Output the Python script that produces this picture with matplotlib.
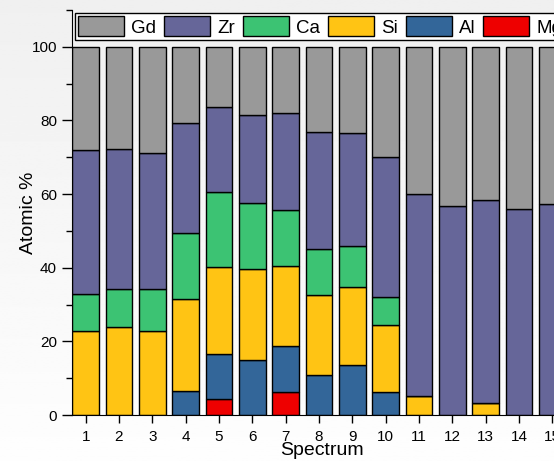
import numpy as np
import matplotlib
matplotlib.use("Agg")
import matplotlib.pyplot as plt
from matplotlib.ticker import MultipleLocator

plt.rcParams.update({"font.family": ["Liberation Sans", "DejaVu Sans"]})

spectra = np.arange(1, 16)
tick_labels = [str(s) for s in spectra]

# atomic % per element, stacked bottom -> top: Mg, Al, Si, Ca, Zr, Gd
mg = [0, 0, 0, 0, 4.4, 0, 6.3, 0, 0, 0, 0, 0, 0, 0, 0]
al = [0, 0, 0, 6.6, 12.2, 14.9, 12.4, 10.8, 13.6, 6.2, 0, 0, 0, 0, 0]
si = [22.9, 23.9, 22.9, 24.8, 23.7, 24.7, 21.9, 21.8, 21.1, 18.2, 5.2, 0, 3.3, 0, 0]
ca = [10.0, 10.3, 11.3, 17.9, 20.3, 18.1, 15.1, 12.4, 11.3, 7.6, 0, 0, 0, 0, 0]
zr = [39.1, 38.1, 36.9, 29.9, 23.1, 23.9, 26.4, 31.9, 30.5, 38.2, 54.9, 56.8, 55.1, 55.9, 57.2]
gd = [28.0, 27.7, 28.9, 20.8, 16.3, 18.4, 17.9, 23.1, 23.5, 29.8, 39.9, 43.2, 41.6, 44.1, 42.8]

elements = ["Mg", "Al", "Si", "Ca", "Zr", "Gd"]
series = [mg, al, si, ca, zr, gd]
colors = ["#ee0000", "#336699", "#ffc414", "#3cc373", "#666699", "#999999"]

W, H = 554, 461
fig = plt.figure(figsize=(W / 100, H / 100), dpi=100)

# soft grey-to-white backdrop
bg = fig.add_axes([0, 0, 1, 1], zorder=-10)
grad = np.linspace(0.94, 0.995, 256).reshape(-1, 1)
bg.imshow(grad, cmap="gray", vmin=0, vmax=1, aspect="auto", extent=[0, 1, 0, 1])
bg.axis("off")

ax = fig.add_axes([72.3 / W, 46 / H, 500 / W, 405 / H])
ax.set_facecolor("none")

bottom = np.zeros(len(spectra))
handles = {}
for name, vals, col in zip(elements, series, colors):
    vals = np.array(vals)
    bars = ax.bar(spectra, vals, width=0.8, bottom=bottom, color=col,
                  edgecolor="black", linewidth=1.0)
    handles[name] = bars
    bottom += vals

ax.set_xlim(0.6, 15.6)
ax.set_ylim(0, 110)
ax.set_xticks(spectra)
ax.set_xticklabels(tick_labels)
ax.yaxis.set_major_locator(MultipleLocator(20))
ax.yaxis.set_minor_locator(MultipleLocator(10))
ax.tick_params(axis="both", which="major", direction="out", length=6.5,
               width=1, labelsize=11)
ax.tick_params(axis="x", which="major", length=6, pad=4.5)
ax.tick_params(axis="y", which="major", length=7, pad=4)
ax.tick_params(axis="y", which="minor", direction="out", length=4.5, width=1)
ax.spines["top"].set_visible(False)
ax.spines["right"].set_visible(False)
ax.set_xlabel("Spectrum", fontsize=14, labelpad=-1)
ax.set_ylabel("Atomic %", fontsize=14, labelpad=-4)

order = ["Gd", "Zr", "Ca", "Si", "Al", "Mg"]
leg = ax.legend([handles[n] for n in order], order, ncol=6,
                loc="upper left", bbox_to_anchor=(75 / W, 1 - 13 / H),
                bbox_transform=fig.transFigure, borderaxespad=0,
                fontsize=13.5, handlelength=2.45, handleheight=1.25,
                handletextpad=0.37, columnspacing=0.43, borderpad=0.18,
                fancybox=False, framealpha=1, edgecolor="black")
leg.get_frame().set_linewidth(1.0)

fig.savefig("out.png", dpi=100)
